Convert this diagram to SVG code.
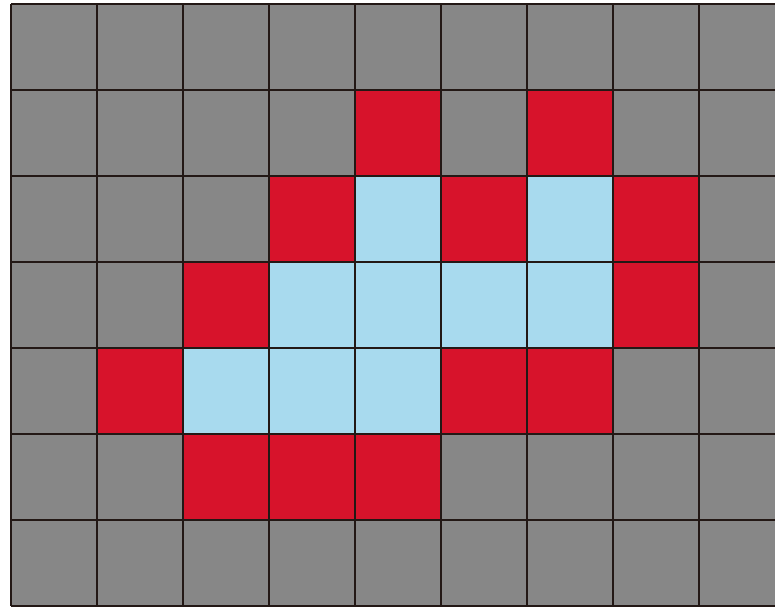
<svg xmlns="http://www.w3.org/2000/svg" width="775" height="607" viewBox="0 0 775 607">
<style>
.r{fill:#d7132b}
.b{fill:#a8daee}
.g{stroke:#231815;stroke-width:2;fill:none}
</style>
<rect x="0" y="0" width="775" height="607" fill="#ffffff"/>
<rect x="11" y="4" width="774" height="602" fill="#878787"/>
<g id="cells">
<rect class="r" x="355" y="90" width="86" height="86"/>
<rect class="r" x="527" y="90" width="86" height="86"/>
<rect class="r" x="269" y="176" width="86" height="86"/>
<rect class="b" x="355" y="176" width="86" height="86"/>
<rect class="r" x="441" y="176" width="86" height="86"/>
<rect class="b" x="527" y="176" width="86" height="86"/>
<rect class="r" x="613" y="176" width="86" height="86"/>
<rect class="r" x="183" y="262" width="86" height="86"/>
<rect class="b" x="269" y="262" width="344" height="86"/>
<rect class="r" x="613" y="262" width="86" height="86"/>
<rect class="r" x="97" y="348" width="86" height="86"/>
<rect class="b" x="183" y="348" width="258" height="86"/>
<rect class="r" x="441" y="348" width="172" height="86"/>
<rect class="r" x="183" y="434" width="258" height="86"/>
</g>
<g id="grid" class="g">
<path d="M11 4V606M97 4V606M183 4V606M269 4V606M355 4V606M441 4V606M527 4V606M613 4V606M699 4V606"/>
<path d="M11 4H775M11 90H775M11 176H775M11 262H775M11 348H775M11 434H775M11 520H775M11 606H775"/>
</g>
</svg>
